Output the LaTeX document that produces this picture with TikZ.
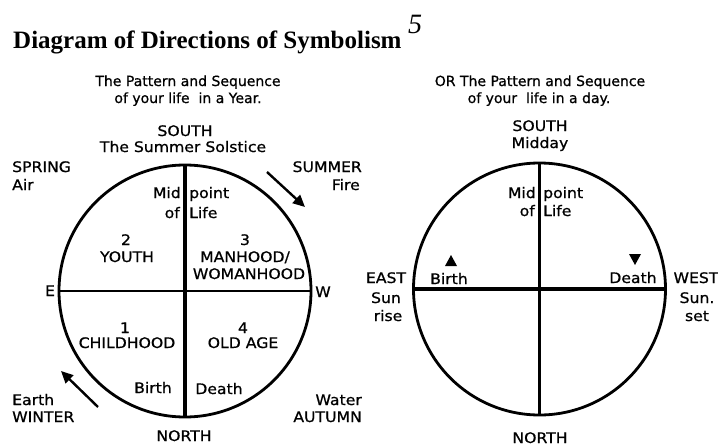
\documentclass[tikz,border=0pt]{standalone}
\usepackage{fontspec}
\setmainfont{DejaVu Sans}
\newfontfamily\titlefont{Liberation Serif}
\newfontfamily\lblfont[FakeStretch=1.08,FakeBold=0.8]{DejaVu Sans}
\newfontfamily\subfont[FakeBold=0.8]{DejaVu Sans}
\usetikzlibrary{arrows.meta,positioning}
\tikzset{
  txt/.style={font=\lblfont\fontsize{14.5}{17}\selectfont, inner sep=0pt, anchor=base},
  subtxt/.style={font=\subfont\fontsize{14}{17}\selectfont, inner sep=0pt, anchor=base},
  ring/.style={circle, draw, line width=2.8pt, minimum size=252pt, inner sep=0pt, outer sep=0pt},
  dirarrow/.style={line width=2.4pt, -{Triangle[length=12pt,width=11pt]}},
}

\begin{document}
\begin{tikzpicture}[x=1pt,y=-1pt]
  \useasboundingbox (0,0) rectangle (718,447);

  \node[inner sep=0pt, anchor=base west, font=\titlefont\bfseries\fontsize{25}{30}\selectfont]
    (title) at (13,48) {Diagram of Directions of Symbolism};
  \node[inner sep=0pt, font=\titlefont\itshape\fontsize{28}{30}\selectfont] (note) at (415,24) {5};

  % life in a year
  \node[ring] (yr) at (185,291) {};
  \draw[line width=2.6pt] (yr.west) -- (yr.east);
  \draw[line width=4pt] (yr.north) -- (yr.south);
  \node[subtxt] (ysubA) at (188,86) {The Pattern and Sequence};
  \node[subtxt] (ysubB) at (188,103) {of your life\ \ in a Year.};
  \foreach \n/\p/\t in {ysouth/{185,136}/SOUTH, ysol/{183,152}/The Summer Solstice,
      ytwo/{126,245}/2, youth/{127,262}/YOUTH,
      ythree/{245,245}/3, yman/{245,262}/{MANHOOD/}, ywoman/{249,279}/WOMANHOOD,
      yone/{125,333}/1, ychild/{127,348}/CHILDHOOD,
      yfour/{243,333}/4, yold/{243,348}/OLD AGE,
      ybirth/{153,393}/Birth, ydeath/{219,394}/Death,
      yE/{50,296}/E, yW/{323,297}/W, ynorth/{184,441}/NORTH}
    \node[txt] (\n) at (\p) {\t};
  \foreach \n/\p/\t in {yspring/{12,172}/SPRING, yair/{12,190}/Air,
      yearth/{12,405}/Earth, ywinter/{12,422}/WINTER,
      ypoint/{189,198}/point, ylife/{189,218}/Life}
    \node[txt, anchor=base west] (\n) at (\p) {\t};
  \foreach \n/\p/\t in {ysummer/{362,172}/SUMMER, yfire/{360,190}/Fire,
      ywater/{362,405}/Water, yautumn/{362,422}/AUTUMN,
      ymid/{181,198}/Mid, yof/{180,218}/of}
    \node[txt, anchor=base east] (\n) at (\p) {\t};
  \coordinate (sumA) at (267,172);
  \coordinate (sumB) at (305,207);
  \coordinate (winA) at (98,407);
  \coordinate (winB) at (61,371);
  \draw[dirarrow] (sumA) -- (sumB);
  \draw[dirarrow] (winA) -- (winB);

  % life in a day
  \node[ring] (dy) at (539.5,289) {};
  \draw[line width=3.4pt] (dy.west) -- (dy.east);
  \draw[line width=2.6pt] (dy.north) -- (dy.south);
  \node[subtxt] (dsubA) at (540,86) {OR The Pattern and Sequence};
  \node[subtxt] (dsubB) at (539,103) {of your\ \ life in a day.};
  \foreach \n/\p/\t in {dsouth/{540,131}/SOUTH, dmidday/{540,148}/Midday,
      dbirth/{449,284}/Birth, ddeath/{633,283}/Death,
      deast/{386,283}/EAST, dsun/{386,303}/Sun, drise/{388,321}/rise,
      dwest/{696,283}/WEST, dsunw/{697,303}/Sun., dset/{697,321}/set,
      dnorth/{540,443}/NORTH}
    \node[txt] (\n) at (\p) {\t};
  \node[txt, anchor=base east] (dmid) at (536,198) {Mid};
  \node[txt, anchor=base west] (dpoint) at (543,198) {point};
  \node[txt, anchor=base east] (dof) at (535,216) {of};
  \node[txt, anchor=base west] (dlife) at (543,216) {Life};
  \fill (445,266) -- (457,266) -- (451,255) -- cycle;
  \fill (629,254) -- (641,254) -- (635,265) -- cycle;
\end{tikzpicture}
\end{document}
